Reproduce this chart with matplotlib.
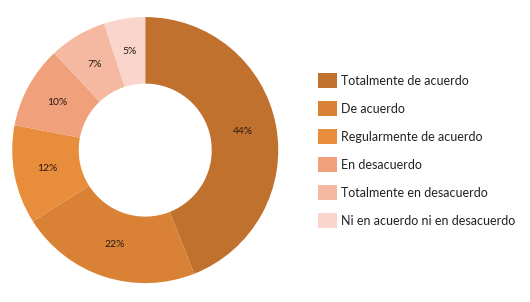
import matplotlib
matplotlib.use("Agg")
import matplotlib.pyplot as plt
from matplotlib.patches import Patch

categories = ["Totalmente de acuerdo", "De acuerdo", "Regularmente de acuerdo",
              "En desacuerdo", "Totalmente en desacuerdo", "Ni en acuerdo ni en desacuerdo"]
values = [44, 22, 12, 10, 7, 5]
colors = ["#C0712E", "#D98236", "#E88D3C", "#F0A07A", "#F5B8A0", "#F9D5CB"]

plt.rcParams['font.family'] = ['Lato', 'DejaVu Sans']
fig = plt.figure(figsize=(5.30, 3.02), dpi=100)
ax = fig.add_axes([0.023, 0.0625, 0.502, 0.881])
wedges, texts = ax.pie(values, colors=colors, startangle=90, counterclock=False,
                       labels=[f"{v}%" for v in values], labeldistance=0.75,
                       wedgeprops=dict(width=0.5, edgecolor='none'),
                       textprops=dict(fontsize=7.5, color='#2a1a10', ha='center', va='center'))
ax.set_aspect('equal')
ax.set_xlim(-1, 1)
ax.set_ylim(-1, 1)

handles = [Patch(facecolor=c, edgecolor='none') for c in colors]
fig.legend(handles, categories, loc='upper left', bbox_to_anchor=(0.6, 0.758),
           frameon=False, fontsize=9, handlelength=1.5, handleheight=1.5,
           labelspacing=1.02, handletextpad=0.35, borderaxespad=0, borderpad=0,
           labelcolor='#222222')

fig.savefig("out.png", dpi=100)
